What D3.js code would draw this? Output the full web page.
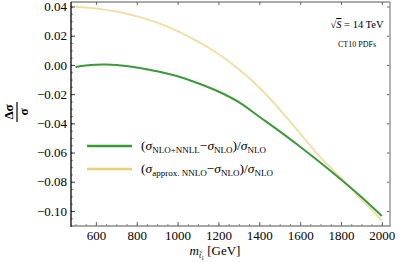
<!DOCTYPE html>
<html>
<head>
<meta charset="utf-8">
<script src="https://cdn.jsdelivr.net/npm/d3@7"></script>
<style>
  body { margin: 0; background: #fff; }
  svg { display: block; font-family: "Liberation Serif", "DejaVu Serif", serif; }
</style>
</head>
<body>
<div id="chart"></div>
<script>
'use strict';

// stop mass in GeV
const masses = [500, 550, 600, 650, 700, 750, 800, 900, 1000, 1100, 1200, 1300, 1400, 1500, 1600, 1700, 1800, 1900, 2000];
// (sigma_NLO+NNLL - sigma_NLO) / sigma_NLO
const nnllRatio = [-0.0014, -0.0004, 0.0002, 0.0003, 0.0000, -0.0007, -0.0017, -0.0043, -0.0078, -0.0125, -0.0182, -0.0255, -0.0355, -0.0455, -0.0560, -0.0670, -0.0785, -0.0905, -0.1035];
// (sigma_approx.NNLO - sigma_NLO) / sigma_NLO
const approxRatio = [0.0398, 0.0393, 0.0386, 0.0377, 0.0366, 0.0351, 0.0333, 0.0290, 0.0232, 0.0160, 0.0075, -0.0030, -0.0155, -0.0305, -0.0470, -0.0635, -0.0775, -0.0920, -0.1065];

const xTicks = [600, 800, 1000, 1200, 1400, 1600, 1800, 2000];
const yTicks = [0.04, 0.02, 0.00, -0.02, -0.04, -0.06, -0.08, -0.10];

const width = 398, height = 262;
const margin = { left: 71, right: 390, top: 2, bottom: 226 };

const svg = d3.select("#chart").append("svg")
    .attr("width", width)
    .attr("height", height);

svg.append("rect").attr("width", width).attr("height", height).attr("fill", "#fff");

const x = d3.scaleLinear().domain([478, 2040]).range([margin.left, margin.right]);
const y = d3.scaleLinear().domain([-0.1103, 0.0431]).range([margin.bottom, margin.top]);

const fmt = d => (d < 0 ? "\u2212" : "") + Math.abs(d).toFixed(2);

// minor ticks
svg.append("g")
    .attr("transform", "translate(0," + margin.bottom + ")")
    .call(d3.axisBottom(x).tickValues(d3.range(500, 2040, 50)).tickSize(-2).tickFormat(""))
    .call(g => g.select(".domain").remove())
    .selectAll("line").attr("stroke", "#888");
svg.append("g")
    .attr("transform", "translate(" + margin.left + ",0)")
    .call(d3.axisLeft(y).tickValues(d3.range(-0.11, 0.0431, 0.005)).tickSize(-2).tickFormat(""))
    .call(g => g.select(".domain").remove())
    .selectAll("line").attr("stroke", "#888");

// x axis
const xAxis = svg.append("g")
    .attr("transform", "translate(0," + margin.bottom + ")")
    .call(d3.axisBottom(x).tickValues(xTicks).tickSizeInner(-4).tickSizeOuter(0).tickPadding(5).tickFormat(d3.format("d")));
xAxis.select(".domain").remove();
xAxis.selectAll("line").attr("stroke", "#666");
xAxis.selectAll("text").attr("font-size", "13px").attr("fill", "#000")
    .attr("font-family", "Liberation Serif, serif");

// y axis
const yAxis = svg.append("g")
    .attr("transform", "translate(" + margin.left + ",0)")
    .call(d3.axisLeft(y).tickValues(yTicks).tickSizeInner(-4).tickSizeOuter(0).tickPadding(4).tickFormat(fmt));
yAxis.select(".domain").remove();
yAxis.selectAll("line").attr("stroke", "#444");
yAxis.selectAll("text").attr("font-size", "13px").attr("fill", "#000")
    .attr("font-family", "Liberation Serif, serif");

// mirrored ticks on top and right
svg.append("g")
    .attr("transform", "translate(0," + margin.top + ")")
    .call(d3.axisTop(x).tickValues(xTicks).tickSize(-3).tickFormat(""))
    .call(g => g.select(".domain").remove())
    .selectAll("line").attr("stroke", "#666");
svg.append("g")
    .attr("transform", "translate(" + margin.right + ",0)")
    .call(d3.axisRight(y).tickValues(yTicks).tickSize(-3).tickFormat(""))
    .call(g => g.select(".domain").remove())
    .selectAll("line").attr("stroke", "#666");

// frame
svg.append("line").attr("x1", margin.left).attr("x2", margin.right).attr("y1", margin.top).attr("y2", margin.top)
    .attr("stroke", "#555").attr("stroke-width", 1);
svg.append("line").attr("x1", margin.right).attr("x2", margin.right).attr("y1", margin.top).attr("y2", margin.bottom)
    .attr("stroke", "#999").attr("stroke-width", 1.5);
svg.append("line").attr("x1", margin.left).attr("x2", margin.right + 0.75).attr("y1", margin.bottom).attr("y2", margin.bottom)
    .attr("stroke", "#888").attr("stroke-width", 1.5);
svg.append("line").attr("x1", margin.left).attr("x2", margin.left).attr("y1", margin.top).attr("y2", margin.bottom + 0.75)
    .attr("stroke", "#000").attr("stroke-width", 1.3);

// curves
const line = d3.line()
    .x(d => x(d[0]))
    .y(d => y(d[1]))
    .curve(d3.curveCatmullRom);

svg.append("path")
    .datum(masses.map((m, i) => [m, approxRatio[i]]))
    .attr("fill", "none")
    .attr("stroke", "#f2dfa6")
    .attr("stroke-width", 2)
    .attr("d", line);

svg.append("path")
    .datum(masses.map((m, i) => [m, nnllRatio[i]]))
    .attr("fill", "none")
    .attr("stroke", "#3a9a3a")
    .attr("stroke-width", 2)
    .attr("d", line);

// legend
const legend = svg.append("g");
const entries = [
    { color: "#3a9a3a", sub: "NLO+NNLL", y: 146 },
    { color: "#ebcf76", sub: "approx. NNLO", y: 169 }
];
entries.forEach(e => {
    legend.append("line")
        .attr("x1", 87).attr("x2", 132)
        .attr("y1", e.y).attr("y2", e.y)
        .attr("stroke", e.color).attr("stroke-width", 2.5);
    const t = legend.append("text")
        .attr("x", 141).attr("y", e.y + 4)
        .attr("font-size", "13.5px").attr("fill", "#000");
    t.append("tspan").text("(");
    t.append("tspan").attr("font-style", "italic").text("\u03C3");
    t.append("tspan").attr("font-size", "9px").attr("dy", 3).text(e.sub);
    t.append("tspan").attr("dy", -3).text("\u2212");
    t.append("tspan").attr("font-style", "italic").text("\u03C3");
    t.append("tspan").attr("font-size", "9px").attr("dy", 3).text("NLO");
    t.append("tspan").attr("dy", -3).text(")/");
    t.append("tspan").attr("font-style", "italic").text("\u03C3");
    t.append("tspan").attr("font-size", "9px").attr("dy", 3).text("NLO");
});

// annotations
const sq = svg.append("text").attr("x", 357).attr("y", 28)
    .attr("text-anchor", "middle").attr("font-size", "10.5px").attr("fill", "#000");
sq.append("tspan").text("\u221A");
sq.append("tspan").attr("font-style", "italic").attr("text-decoration", "overline").text("S");
sq.append("tspan").text(" = 14 TeV");

svg.append("text").attr("x", 357).attr("y", 47)
    .attr("text-anchor", "middle").attr("font-size", "8px").attr("fill", "#000")
    .text("CT10 PDFs");

// x label
const xl = svg.append("text").attr("x", 215).attr("y", 255)
    .attr("text-anchor", "middle").attr("font-size", "13px").attr("fill", "#000");
xl.append("tspan").attr("font-style", "italic").text("m");
xl.append("tspan").attr("font-size", "8px").attr("font-style", "italic").attr("dy", 3).text("t\u0303");
xl.append("tspan").attr("font-size", "5.5px").attr("dy", 1.5).text("1");
xl.append("tspan").attr("dy", -4.5).text(" [GeV]");

// y label: rotated fraction
const yl = svg.append("g").attr("transform", "translate(17,112) rotate(-90)");
yl.append("text").attr("x", 0).attr("y", -4).attr("text-anchor", "middle")
    .attr("font-size", "13px").attr("font-weight", "bold").attr("fill", "#000").text("\u0394\u03C3");
yl.append("line").attr("x1", -10).attr("x2", 10).attr("y1", 0).attr("y2", 0)
    .attr("stroke", "#000").attr("stroke-width", 1.2);
yl.append("text").attr("x", 0).attr("y", 11).attr("text-anchor", "middle")
    .attr("font-size", "13px").attr("font-weight", "bold").attr("fill", "#000").text("\u03C3");
</script>
</body>
</html>
